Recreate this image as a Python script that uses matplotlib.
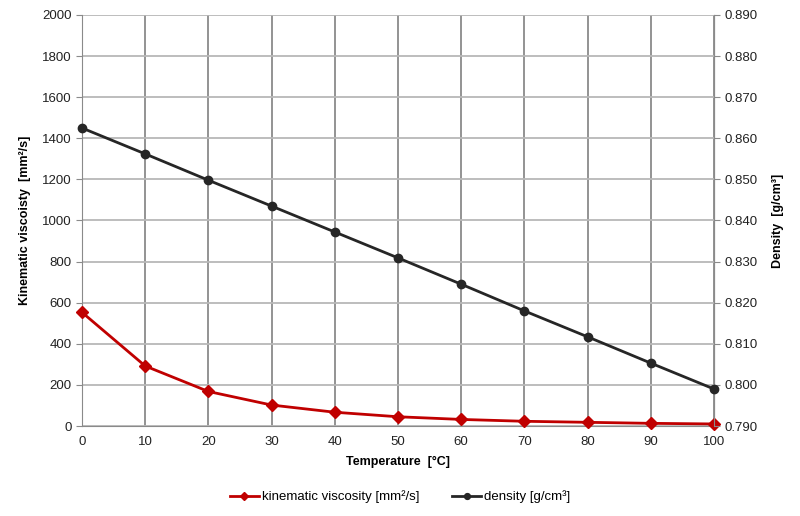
import numpy as np
import matplotlib
matplotlib.use("Agg")
import matplotlib.pyplot as plt

plt.rcParams['font.family'] = ['Liberation Sans', 'DejaVu Sans']

temperature = [0, 10, 20, 30, 40, 50, 60, 70, 80, 90, 100]
viscosity = [553, 292, 168, 102, 67, 45, 32, 23, 18, 13, 10]
density = [0.8625, 0.8562, 0.8498, 0.8435, 0.8372, 0.8309, 0.8245, 0.8180, 0.8117, 0.8053, 0.7990]

red = '#C00000'
dark = '#262626'
vgrid = '#8a8a8a'
hgrid = '#b8b8b8'

fig = plt.figure(figsize=(8, 5.16), dpi=100)
ax = fig.add_axes([0.1025, 0.1744, 0.79, 0.7966])
ax2 = ax.twinx()

ax.plot(temperature, viscosity, color=red, lw=2, marker='D', ms=6,
        label='kinematic viscosity [mm²/s]', zorder=3, clip_on=False)
ax2.plot(temperature, density, color=dark, lw=2, marker='o', ms=6,
         label='density [g/cm³]', zorder=3, clip_on=False)

ax.set_xlim(0, 100)
ax.set_ylim(0, 2000)
ax2.set_ylim(0.790, 0.890)
ax.set_xticks(np.arange(0, 101, 10))
ax.set_yticks(np.arange(0, 2001, 200))
ax2.set_yticks(np.round(np.arange(0.790, 0.8901, 0.010), 3))
ax2.set_yticklabels([f'{v:.3f}' for v in np.arange(0.790, 0.8901, 0.010)])

ax.xaxis.grid(True, color=vgrid, lw=1.3)
ax.yaxis.grid(True, color=hgrid, lw=1.3)
ax.set_axisbelow(True)
for a in (ax, ax2):
    a.spines['top'].set_visible(False)
    for s in ('left', 'right', 'bottom'):
        a.spines[s].set_color(vgrid)
    a.tick_params(colors=vgrid, labelcolor='#222222', labelsize=9.5, length=4)
ax2.spines['left'].set_visible(False)
ax2.spines['bottom'].set_visible(False)
ax.tick_params(axis='x', length=0, pad=7)

ax.set_xlabel('Temperature  [°C]', fontsize=9, fontweight='bold', labelpad=6)
ax.set_ylabel('Kinematic viscoisty  [mm²/s]', fontsize=9, fontweight='bold', labelpad=8)
ax2.set_ylabel('Density  [g/cm³]', fontsize=9, fontweight='bold', labelpad=10)

h1, l1 = ax.get_legend_handles_labels()
h2, l2 = ax2.get_legend_handles_labels()
fig.legend(h1 + h2, l1 + l2, loc='center', bbox_to_anchor=(0.5, 0.037), ncol=2,
           frameon=False, fontsize=9.5, handlelength=2.2, handletextpad=0.2,
           columnspacing=2.5, markerscale=0.7)

fig.savefig('out.png', dpi=100)
